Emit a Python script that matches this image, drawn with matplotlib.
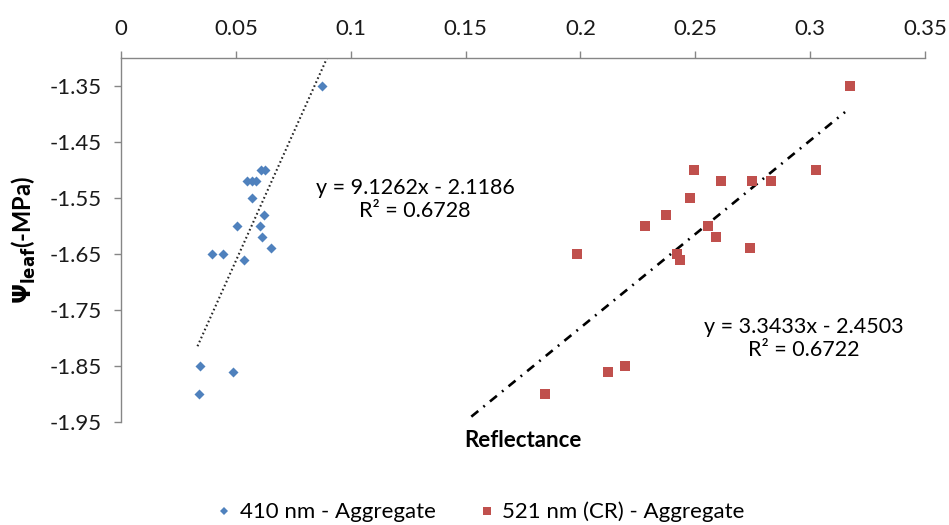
import matplotlib
matplotlib.use('Agg')
import matplotlib.pyplot as plt
from matplotlib.lines import Line2D

plt.rcParams['font.family'] = ['Lato', 'DejaVu Sans']
plt.rcParams['mathtext.fontset'] = 'dejavusans'

# 410 nm - Aggregate
blue_x = [0.0339, 0.0342, 0.0488, 0.0394, 0.0445, 0.0536, 0.0503, 0.0549, 0.0570,
          0.0587, 0.0572, 0.0609, 0.0627, 0.0623, 0.0607, 0.0612, 0.0651, 0.0873]
blue_y = [-1.90, -1.85, -1.86, -1.65, -1.65, -1.66, -1.60, -1.52, -1.52,
          -1.52, -1.55, -1.50, -1.50, -1.58, -1.60, -1.62, -1.64, -1.35]

# 521 nm (CR) - Aggregate
red_x = [0.2496, 0.2612, 0.2749, 0.2829, 0.3025, 0.2478, 0.2371, 0.2280, 0.2554,
         0.2591, 0.2737, 0.2420, 0.2432, 0.1984, 0.3172, 0.1845, 0.2119, 0.2196]
red_y = [-1.50, -1.52, -1.52, -1.52, -1.50, -1.55, -1.58, -1.60, -1.60,
         -1.62, -1.64, -1.65, -1.66, -1.65, -1.35, -1.90, -1.86, -1.85]

# linear trendlines (slope, intercept) and the x span they are drawn over
blue_fit = (9.1262, -2.1186)
blue_span = [0.0333, 0.0900]
red_fit = (3.3433, -2.4503)
red_span = [0.1525, 0.3152]

blue_eq = 'y = 9.1262x - 2.1186\nR² = 0.6728'
red_eq = 'y = 3.3433x - 2.4503\nR² = 0.6722'

xticks = [0, 0.05, 0.1, 0.15, 0.2, 0.25, 0.3, 0.35]
xtick_labels = ['0', '0.05', '0.1', '0.15', '0.2', '0.25', '0.3', '0.35']
yticks = [-1.95, -1.85, -1.75, -1.65, -1.55, -1.45, -1.35]

BLUE = '#4F81BD'
RED = '#C0504D'
AXIS = '#868686'

fig = plt.figure(figsize=(9.49, 5.25), dpi=100)
ax = fig.add_axes([121 / 949, 1 - 422 / 525, (925 - 121) / 949, (422 - 58) / 525])

ax.scatter(blue_x, blue_y, marker='D', s=26, color=BLUE, zorder=3, linewidths=0)
ax.scatter(red_x, red_y, marker='s', s=46, color=RED, zorder=3, linewidths=0)

bx = blue_span
ax.plot(bx, [blue_fit[0] * v + blue_fit[1] for v in bx], color='#262626',
        lw=1.5, linestyle=(0, (0.8, 1.3)), zorder=2)
rx = red_span
ax.plot(rx, [red_fit[0] * v + red_fit[1] for v in rx], color='black',
        lw=1.9, linestyle=(0, (3.4, 2.5, 0.7, 2.5)), zorder=2)

ax.text(0.128, -1.552, blue_eq, ha='center', va='center', fontsize=15.5,
        multialignment='center', linespacing=1.2)
ax.text(0.2974, -1.801, red_eq, ha='center', va='center', fontsize=15.5,
        multialignment='center', linespacing=1.2)

ax.set_xlim(0, 0.35)
ax.set_ylim(-1.95, -1.30)
ax.set_xticks(xticks)
ax.set_xticklabels(xtick_labels)
ax.set_yticks(yticks)
ax.set_yticklabels([f'{v:.2f}' for v in yticks])

ax.xaxis.tick_top()
for side in ['bottom', 'right']:
    ax.spines[side].set_visible(False)
for side in ['top', 'left']:
    ax.spines[side].set_color(AXIS)
    ax.spines[side].set_linewidth(1)
ax.tick_params(axis='both', colors=AXIS, labelcolor='#1a1a1a', labelsize=16,
               length=5, width=1, direction='out')
ax.tick_params(axis='x', pad=9)
ax.tick_params(axis='y', pad=9)

ax.text(0.5, -0.05, 'Reflectance', transform=ax.transAxes, ha='center', va='center',
        fontsize=16, fontweight='bold')
fig.text(24 / 949, 1 - 240 / 525, r'$\mathbf{\Psi}_{\mathbf{leaf}}$' + '(-MPa)',
         rotation=90, ha='center', va='center', fontsize=17, fontweight='bold')

handles = [Line2D([], [], marker='D', color=BLUE, linestyle='none', markersize=4.5,
                  markeredgewidth=0),
           Line2D([], [], marker='s', color=RED, linestyle='none', markersize=5.5,
                  markeredgewidth=0)]
fig.legend(handles, ['410 nm - Aggregate', '521 nm (CR) - Aggregate'],
           loc='center', bbox_to_anchor=(481 / 949, 1 - 512 / 525), ncol=2,
           frameon=False, fontsize=16, handlelength=0.6, handletextpad=0.4,
           columnspacing=2.0)

fig.savefig('out.png', dpi=100)
